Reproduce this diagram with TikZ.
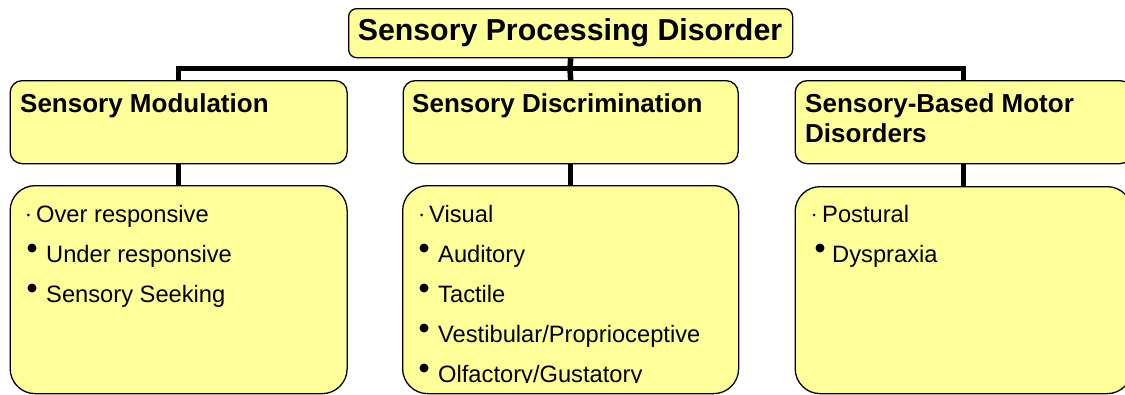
\documentclass[tikz,border=0pt]{standalone}
\usepackage{fontspec}
\setmainfont{Liberation Sans}
\definecolor{boxfill}{HTML}{FFFF99}
\begin{document}
\begin{tikzpicture}[x=1pt,y=-1pt,
  box/.style={draw=black, line width=1.3pt, fill=boxfill, rounded corners=#1, anchor=north west, inner sep=0pt},
  conn/.style={line width=5.5pt, draw=black},
  ttl/.style={font=\fontsize{30.3}{36}\selectfont\bfseries, inner sep=0pt},
  hdr/.style={font=\fontsize{26}{30}\selectfont\bfseries, inner sep=0pt, anchor=base west},
  itm/.style={font=\fontsize{23.7}{28}\selectfont, inner sep=0pt, anchor=base west},
  sdot/.style={fill=black},
  bdot/.style={fill=black}]
\useasboundingbox (0,0) rectangle (1125,394);
\coordinate (bar) at (570,68.5);
% boxes
\node[box=8pt, minimum width=444pt, minimum height=49pt] (top) at (348,8) {};
\node[box=12pt, minimum width=337pt, minimum height=83pt] (m1) at (9.5,80) {};
\node[box=12pt, minimum width=335pt, minimum height=83pt] (m2) at (402.5,80) {};
\node[box=12pt, minimum width=337pt, minimum height=83pt] (m3) at (794.5,80) {};
\node[box=25pt, minimum width=337pt, minimum height=208pt] (b1) at (9.5,185) {};
\node[box=25pt, minimum width=336pt, minimum height=208pt] (b2) at (402,185) {};
\node[box=25pt, minimum width=337pt, minimum height=207pt] (b3) at (794.5,186) {};
% connectors
\draw[conn] (top.south) -- (bar);
\draw[conn] (m1.north) |- (bar) -| (m3.north);
\draw[conn] (bar) -- (m2.north);
\draw[conn] (m1.south) -- (b1.north);
\draw[conn] (m2.south) -- (b2.north);
\draw[conn] (m3.south) -- (b3.north);
% texts
\node[ttl] (tt) at (570,33) {Sensory Processing Disorder};
\node[hdr] (h1) at (20,112) {Sensory Modulation};
\node[hdr] (h2) at (412,112) {Sensory Discrimination};
\node[hdr] (h3) at (805,112) {Sensory-Based Motor};
\node[hdr] (h3b) at (805,142) {Disorders};
% left list
\fill[sdot] (28.3,215) circle (1.5pt);
\node[itm] (l1) at (36,222) {Over responsive};
\fill[bdot] (32,248) circle (4.5pt);
\node[itm] (l2) at (46,262) {Under responsive};
\fill[bdot] (32,288) circle (4.5pt);
\node[itm] (l3) at (46,302) {Sensory Seeking};
% middle list
\fill[sdot] (421.7,215) circle (1.5pt);
\node[itm] (c1) at (429,222) {Visual};
\fill[bdot] (424,248) circle (4.5pt);
\node[itm] (c2) at (438,262) {Auditory};
\fill[bdot] (424,288) circle (4.5pt);
\node[itm] (c3) at (438,302) {Tactile};
\fill[bdot] (424,328) circle (4.5pt);
\node[itm] (c4) at (438,342) {Vestibular/Proprioceptive};
\begin{scope}
\clip (402,185) rectangle (738,382);
\fill[bdot] (424,368) circle (4.5pt);
\node[itm] (c5) at (438,382) {Olfactory/Gustatory};
\end{scope}
% right list
\fill[sdot] (814,215) circle (1.5pt);
\node[itm] (r1) at (822,222) {Postural};
\fill[bdot] (820,248) circle (4.5pt);
\node[itm] (r2) at (832,262) {Dyspraxia};
\end{tikzpicture}
\end{document}
